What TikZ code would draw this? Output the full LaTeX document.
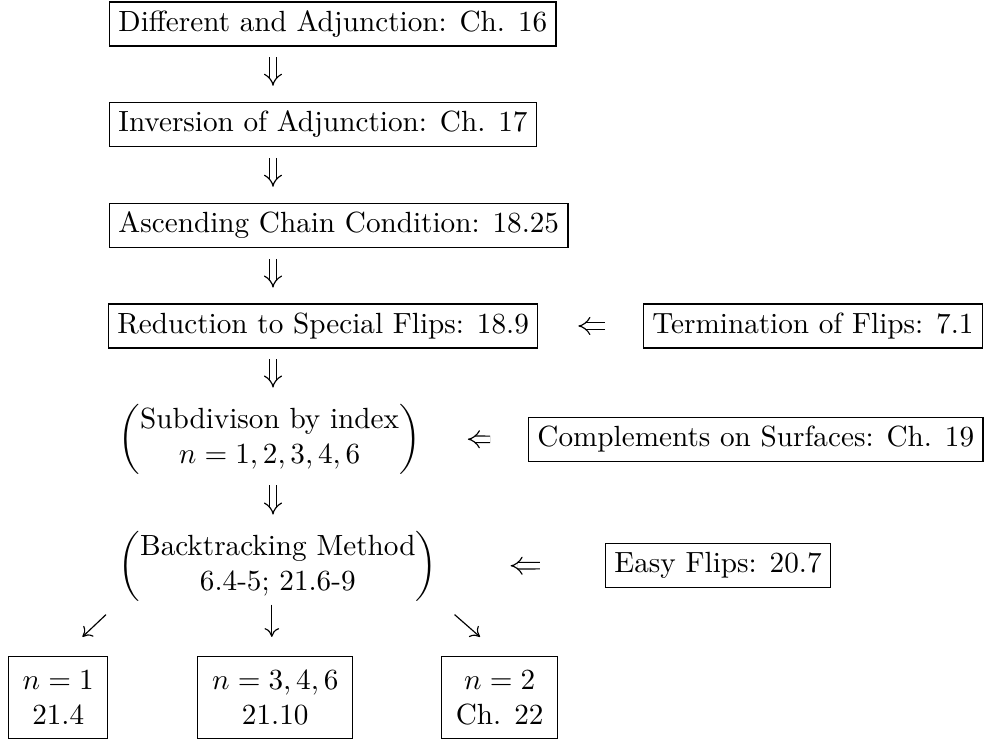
\documentclass[tikz,border=0pt]{standalone}
\usetikzlibrary{arrows.meta}
\begin{document}
\begin{tikzpicture}[x=0.3425pt,y=-0.3425pt,
  bx/.style={draw,line width=0.5pt,inner sep=3pt,anchor=west},
  pn/.style={inner sep=0pt,anchor=west},
  bbx/.style={draw,line width=0.5pt,inner sep=3pt,anchor=west,align=center,minimum height=28pt},
  dimp/.style={double,double distance=1.8pt,line width=0.4pt,-{Implies}},
  vimp/.style={dimp,shorten <=3.6pt,shorten >=5.4pt},
  sarr/.style={line width=0.4pt,-{To[length=3pt,width=5pt]}}]
\useasboundingbox (0,0) rectangle (990,740);
\coordinate (col) at (273,0);
\node[bx] (b1) at (109,24) {Different and Adjunction: Ch. 16};
\node[bx] (b2) at (109,124.5) {Inversion of Adjunction: Ch. 17};
\node[bx] (b3) at (109,225.5) {Ascending Chain Condition: 18.25};
\node[bx] (b4) at (108,326) {Reduction to Special Flips: 18.9};
\node[bx] (term) at (643,326) {Termination of Flips: 7.1};
\node[pn] (sub) at (118,439) {$\left(\begin{array}{@{}c@{}}\mbox{Subdivison by index}\\ n=1,2,3,4,6\end{array}\right)$};
\node[bx] (comp) at (528,439.5) {Complements on Surfaces: Ch. 19};
\node[pn] (back) at (118,566) {$\left(\begin{array}{@{}c@{}}\mbox{Backtracking Method}\\ \mbox{6.4-5; 21.6-9}\end{array}\right)$};
\node[bx] (easy) at (605,565.5) {Easy Flips: 20.7};
\node[bbx,minimum width=33.9pt] (n1) at (8,697.5) {$n=1$\\ 21.4};
\node[bbx,minimum width=53.1pt] (n2) at (197,697.5) {$n=3,4,6$\\ 21.10};
\node[bbx,minimum width=39.7pt] (n3) at (441,697.5) {$n=2$\\ Ch. 22};
\draw[vimp] (b1.south -| col) -- (b2.north -| col);
\draw[vimp] (b2.south -| col) -- (b3.north -| col);
\draw[vimp] (b3.south -| col) -- (b4.north -| col);
\draw[vimp] (b4.south -| col) -- (sub.north -| col);
\draw[vimp] (sub.south -| col) -- (back.north -| col);
\draw[dimp,shorten <=13pt,shorten >=13.7pt] (term.west) -- (b4.east);
\draw[dimp,shorten <=13pt,shorten >=16pt] (comp.west) -- (sub.east);
\draw[dimp,shorten <=22.3pt,shorten >=25pt] (easy.west) -- (back.east);
\draw[sarr] ([shift={(-12,13)}]back.south west) -- ([shift={(-26,-19)}]n1.north east);
\draw[sarr] ([shift={(-6,3)}]back.south) -- ([shift={(-6,-19)}]n2.north -| back.south);
\draw[sarr] ([shift={(17,13)}]back.south east) -- ([shift={(39,-19)}]n3.north west);
\end{tikzpicture}
\end{document}
